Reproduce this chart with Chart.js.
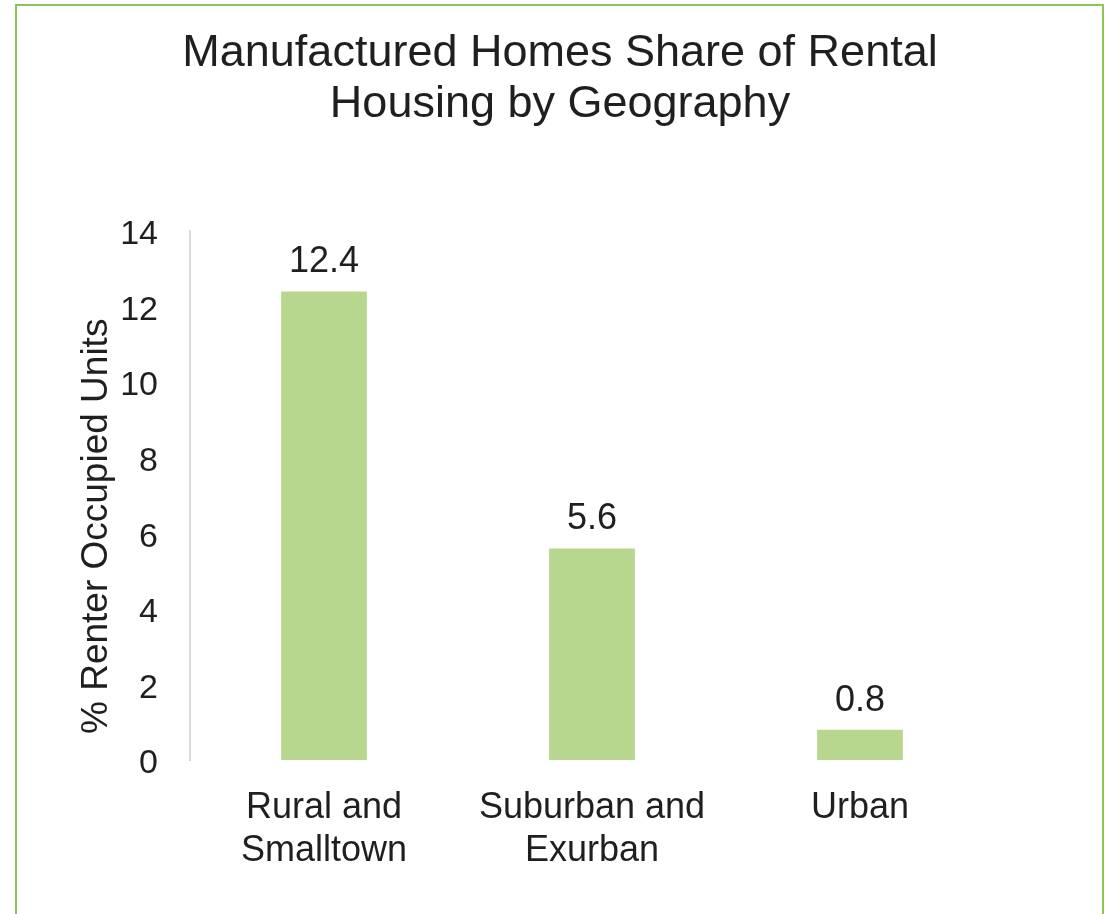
<!DOCTYPE html>
<html>
<head>
<meta charset="utf-8">
<script src="https://cdn.jsdelivr.net/npm/chart.js@4/dist/chart.umd.min.js"></script>
<style>
  html, body { margin: 0; padding: 0; background: #ffffff; overflow: hidden; }
  #frame { position: absolute; left: 15px; top: 4px; width: 1085px; height: 930px;
           border: 2px solid #8dc455; border-bottom: none; }
  #wrap { position: absolute; left: 0; top: 0; width: 1109px; height: 914px; }
</style>
</head>
<body>
<div id="frame"></div>
<div id="wrap"><canvas id="c" width="1109" height="914"></canvas></div>
<script>
const titleLines = ["Manufactured Homes Share of Rental", "Housing by Geography"];
const categories = [["Rural and", "Smalltown"], ["Suburban and", "Exurban"], ["Urban"]];
const shareValues = [12.4, 5.6, 0.8];
const yAxisTitle = "% Renter Occupied Units";
const yMin = 0, yMax = 14, yStep = 2;

const FONT = '"Liberation Sans", Arial, Helvetica, sans-serif';
const TEXT = '#1f1f1f';

const valueLabels = {
  id: 'valueLabels',
  afterDatasetsDraw(chart) {
    const ctx = chart.ctx;
    const meta = chart.getDatasetMeta(0);
    ctx.save();
    ctx.font = '36px ' + FONT;
    ctx.fillStyle = TEXT;
    ctx.textAlign = 'center';
    ctx.textBaseline = 'alphabetic';
    meta.data.forEach((bar, i) => {
      ctx.fillText(shareValues[i].toFixed(1), bar.x, bar.y - 19);
    });
    ctx.restore();
  }
};

new Chart(document.getElementById('c'), {
  type: 'bar',
  data: {
    labels: categories,
    datasets: [{
      data: shareValues,
      backgroundColor: '#b8d78e',
      borderWidth: 0,
      barPercentage: 0.32,
      categoryPercentage: 1.0
    }]
  },
  options: {
    responsive: false,
    animation: false,
    devicePixelRatio: 1,
    layout: { padding: { left: 11, right: 0, top: 0, bottom: 0 } },
    plugins: {
      legend: { display: false },
      tooltip: { enabled: false },
      title: {
        display: true,
        text: titleLines,
        color: TEXT,
        font: { family: FONT, size: 45, weight: 'normal', lineHeight: 1.144 },
        padding: { top: 27.5, bottom: 100.5 }
      }
    },
    scales: {
      x: {
        grid: { display: false },
        border: { display: false },
        ticks: { color: TEXT, font: { family: FONT, size: 36 }, padding: 18, maxRotation: 0, autoSkip: false },
        afterFit: s => { s.height = 154; }
      },
      y: {
        min: yMin, max: yMax,
        grid: { display: false, drawTicks: false },
        border: { display: true, color: '#d9d9d9', width: 2 },
        ticks: { stepSize: yStep, color: TEXT, font: { family: FONT, size: 34 }, padding: 32, labelOffset: 4 },
        title: {
          display: true, text: yAxisTitle + '      ', color: TEXT,
          font: { family: FONT, size: 37 },
          padding: { top: 63.8, bottom: 0 }
        },
        afterFit: s => { s.width = 179; }
      },
      ySpacer: {
        type: 'linear',
        position: 'right',
        display: true,
        grid: { display: false },
        border: { display: false },
        ticks: { display: false },
        afterFit: s => { s.width = 115; }
      }
    }
  },
  plugins: [valueLabels]
});
</script>
</body>
</html>
